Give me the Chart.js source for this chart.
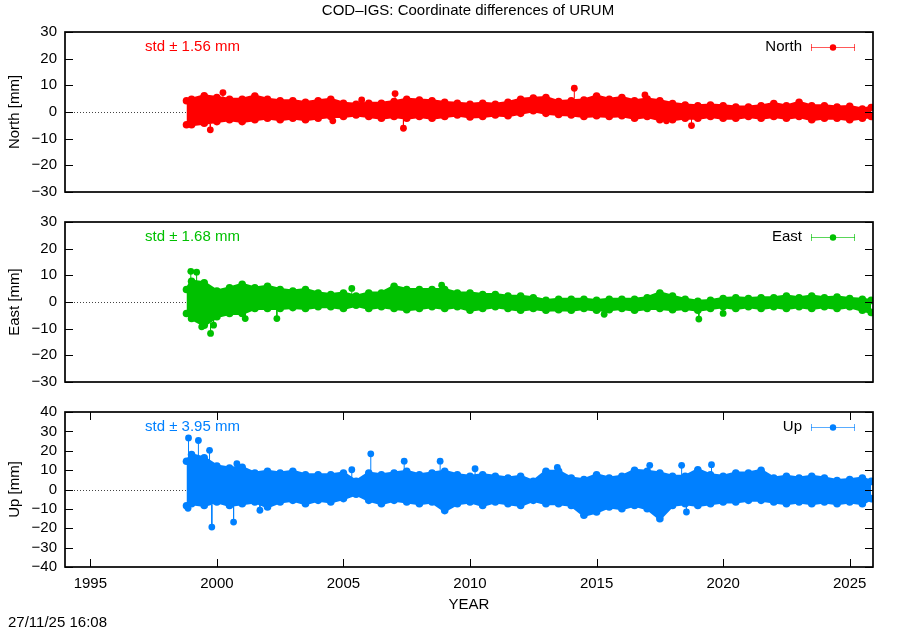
<!DOCTYPE html>
<html><head><meta charset="utf-8">
<script src="https://cdn.jsdelivr.net/npm/chart.js@4.4.1/dist/chart.umd.min.js"></script>
<style>
html,body{margin:0;padding:0;background:#fff;}
#wrap{position:relative;width:900px;height:630px;overflow:hidden;font-family:'Liberation Sans',Arial,sans-serif;}
canvas{position:absolute;left:0;top:0;}
.txt{position:absolute;font-size:15px;color:#000;white-space:nowrap;line-height:16px;}
</style></head><body>
<div id="wrap">
<canvas id="c1" width="900" height="630"></canvas>
<canvas id="c2" width="900" height="630"></canvas>
<canvas id="c3" width="900" height="630"></canvas>
<div class="txt" style="left:0;width:936px;text-align:center;top:2px;">COD–IGS: Coordinate differences of URUM</div>
<div class="txt" style="left:8px;top:614px;">27/11/25 16:08</div>
</div>
<script>
// ---- data (mm); envelopes of the dense daily series ----
const years = [1998.8, 1999.0, 1999.5, 2000.0, 2000.5, 2001.0, 2001.5, 2002.0, 2002.5, 2003.0, 2003.5, 2004.0, 2004.5, 2005.0, 2005.5, 2006.0, 2006.5, 2007.0, 2007.5, 2008.0, 2008.5, 2009.0, 2009.5, 2010.0, 2010.5, 2011.0, 2011.5, 2012.0, 2012.5, 2013.0, 2013.5, 2014.0, 2014.5, 2015.0, 2015.5, 2016.0, 2016.5, 2017.0, 2017.5, 2018.0, 2018.5, 2019.0, 2019.5, 2020.0, 2020.5, 2021.0, 2021.5, 2022.0, 2022.5, 2023.0, 2023.5, 2024.0, 2024.5, 2025.0, 2025.5, 2025.85];

const northUpper = [4.2, 4.8, 6.1, 5.4, 4.8, 4.8, 6.0, 4.8, 4.2, 4.2, 3.6, 4.2, 4.8, 3.3, 2.9, 3.3, 3.3, 3.9, 4.8, 4.5, 4.2, 3.6, 3.3, 2.9, 3.3, 2.9, 3.6, 4.8, 5.2, 5.4, 3.9, 4.2, 4.5, 6.0, 4.8, 5.4, 4.2, 4.9, 4.2, 3.2, 2.6, 2.3, 2.6, 2.3, 1.9, 1.9, 2.3, 3.2, 2.3, 3.6, 2.3, 2.3, 1.9, 2.1, 1.1, 1.7];
const northLower = [-4.8, -4.8, -4.2, -3.6, -2.9, -3.6, -2.9, -2.3, -2.9, -2.3, -2.9, -2.3, -1.7, -1.7, -1.1, -1.7, -2.3, -1.7, -2.3, -1.7, -2.3, -1.7, -1.1, -1.9, -1.7, -1.1, -1.4, -0.5, 0.5, -0.5, -0.9, -1.1, -1.7, -1.4, -1.7, -1.4, -2.3, -1.7, -2.9, -2.9, -2.3, -2.3, -1.7, -2.3, -2.3, -1.7, -2.3, -1.7, -2.3, -1.7, -2.9, -2.3, -2.3, -2.9, -2.3, -1.7];
// [year, value, value the spike leaves the band from]
const northSpikes = [[1999.74, -6.7, -4.5], [2000.24, 7.3, 5.0], [2004.58, -3.3, -1.7], [2005.72, 4.5, 2.5], [2007.04, 6.9, 4.0], [2007.37, -6.1, -2.0], [2014.12, 8.9, 5.0], [2016.91, 6.4, 4.5], [2017.76, -3.3, -2.0], [2018.75, -5.1, -2.0]];

const eastUpper = [4.7, 7.8, 7.2, 4.1, 5.3, 6.6, 5.3, 5.9, 4.7, 4.1, 4.7, 3.4, 2.8, 3.4, 2.2, 3.4, 3.4, 5.9, 4.7, 4.7, 4.7, 4.7, 3.4, 3.4, 2.8, 2.8, 2.2, 2.2, 1.6, 0.6, 1.0, 1.0, 1.0, 0.6, 1.0, 1.0, 1.0, 1.6, 3.4, 2.2, 1.0, 0.3, 0.6, 1.3, 1.6, 1.3, 1.6, 1.6, 2.2, 1.6, 2.2, 1.6, 1.9, 1.3, 1.0, 0.6];
const eastLower = [-4.3, -6.2, -8.7, -5.5, -4.3, -4.3, -2.4, -2.4, -2.4, -2.1, -2.4, -1.8, -1.8, -2.4, -1.2, -2.4, -1.8, -2.4, -2.9, -2.4, -1.8, -2.4, -1.8, -3.1, -2.4, -1.8, -2.4, -3.1, -2.4, -3.1, -2.9, -3.1, -2.4, -3.1, -2.9, -2.4, -3.1, -2.4, -2.4, -2.9, -2.4, -3.1, -2.4, -1.8, -2.4, -1.8, -2.4, -1.8, -2.4, -1.8, -2.4, -1.8, -2.4, -1.8, -3.1, -3.9];
const eastSpikes = [[1998.97, 11.5, 7.0], [1999.2, 11.2, 7.0], [1999.4, -9.3, -7.0], [1999.75, -11.8, -8.0], [1999.87, -8.7, -6.0], [2001.12, -6.2, -4.0], [2002.37, -6.2, -3.0], [2005.33, 5.1, 3.0], [2008.88, 6.3, 4.5], [2015.3, -4.6, -3.0], [2019.04, -6.4, -3.0], [2020.0, -4.3, -2.5]];

const upUpper = [14.6, 18.0, 16.3, 12.1, 11.1, 11.4, 8.5, 9.4, 8.5, 9.4, 7.6, 7.6, 7.6, 8.5, 4.2, 8.5, 7.6, 8.5, 9.4, 7.6, 8.5, 9.4, 7.6, 6.8, 7.6, 6.8, 5.9, 6.8, 4.2, 9.4, 9.4, 5.9, 5.1, 7.6, 5.9, 6.8, 9.9, 9.4, 8.5, 6.8, 6.8, 10.2, 7.6, 6.8, 8.5, 8.5, 9.9, 5.9, 6.8, 5.9, 6.8, 5.9, 4.6, 5.1, 5.9, 4.2];
const upLower = [-8.4, -7.3, -8.2, -6.4, -8.2, -7.3, -6.4, -9.0, -6.4, -5.6, -7.3, -5.6, -6.4, -4.7, -2.4, -5.6, -7.3, -5.6, -6.4, -7.3, -6.4, -10.9, -7.3, -6.4, -8.2, -6.4, -7.3, -8.2, -5.6, -7.3, -7.3, -8.2, -13.3, -11.6, -9.0, -9.9, -8.2, -9.9, -15.1, -8.2, -7.3, -8.2, -7.3, -6.4, -6.4, -5.6, -5.6, -6.4, -7.3, -6.4, -7.3, -6.4, -7.3, -6.4, -7.3, -4.7];
const upSpikes = [[1998.88, 26.6, 14.0], [1999.27, 25.3, 16.0], [1999.71, 20.2, 12.0], [2000.79, 13.3, 9.0], [2005.33, 10.2, 6.0], [2006.08, 18.4, 7.5], [2007.4, 14.6, 9.0], [2008.82, 14.6, 9.0], [2010.2, 10.7, 7.0], [2013.45, 11.4, 8.0], [2017.1, 12.5, 8.0], [2018.36, 12.5, 4.0], [2019.54, 12.8, 4.0], [1998.86, -9.7, -6.0], [1999.8, -19.4, -8.0], [2000.66, -16.8, -7.0], [2001.7, -10.7, -8.0], [2018.55, -11.6, -8.0]];

const xTicks = [1995, 2000, 2005, 2010, 2015, 2020, 2025];
const yTicksNE = [-30, -20, -10, 0, 10, 20, 30];
const yTicksUp = [-40, -30, -20, -10, 0, 10, 20, 30, 40];
const stdLabels = ['std \u00b1 1.56 mm', 'std \u00b1 1.68 mm', 'std \u00b1 3.95 mm'];
const seriesNames = ['North', 'East', 'Up'];
const axisTitles = ['North [mm]', 'East [mm]', 'Up [mm]'];

// ---- rendering ----
const FONT = "'Liberation Sans', Arial, sans-serif";
const FS = 15;
Chart.defaults.font.family = FONT;
Chart.defaults.font.size = FS;
Chart.defaults.color = '#000';

const X_MIN = 1994.0, X_MAX = 2025.92;
const fmt = v => String(v).replace('-', '\u2212');

function panelPlugin(idx, color, yTicks, showX) {
  return {
    id: 'panel' + idx,
    beforeDatasetsDraw(chart) {
      const {ctx, chartArea: a, scales: {y}} = chart;
      const y0 = Math.round(y.getPixelForValue(0)) + 0.5;
      ctx.save();
      ctx.strokeStyle = '#444'; ctx.lineWidth = 1; ctx.setLineDash([1, 2]);
      ctx.beginPath(); ctx.moveTo(a.left, y0); ctx.lineTo(a.right, y0); ctx.stroke();
      ctx.restore();
    },
    afterDatasetsDraw(chart) {
      const {ctx, chartArea: a} = chart;
      ctx.save();
      ctx.font = FS + 'px ' + FONT;
      ctx.textBaseline = 'middle';
      const ty = a.top + 15;
      ctx.fillStyle = color; ctx.textAlign = 'left';
      ctx.fillText(stdLabels[idx], a.left + 80, ty);
      ctx.fillStyle = '#000'; ctx.textAlign = 'right';
      ctx.fillText(seriesNames[idx], a.right - 71, ty);
      // legend symbol (error bar with point)
      const x1 = a.right - 62, x2 = a.right - 18, ly = Math.round(ty) + 0.5;
      ctx.strokeStyle = color; ctx.globalAlpha = 0.65; ctx.lineWidth = 1;
      ctx.beginPath();
      ctx.moveTo(x1, ly); ctx.lineTo(x2, ly);
      ctx.moveTo(x1 + 0.5, ly - 3.5); ctx.lineTo(x1 + 0.5, ly + 3.5);
      ctx.moveTo(x2 - 0.5, ly - 3.5); ctx.lineTo(x2 - 0.5, ly + 3.5);
      ctx.stroke();
      ctx.globalAlpha = 1;
      ctx.fillStyle = color;
      ctx.beginPath(); ctx.arc((x1 + x2) / 2, ly, 3.2, 0, Math.PI * 2); ctx.fill();
      ctx.restore();
    },
    afterDraw(chart) {
      const {ctx, chartArea: a, scales: {x, y}} = chart;
      ctx.save();
      ctx.strokeStyle = '#000';
      ctx.lineWidth = 1;
      ctx.beginPath();
      yTicks.forEach(v => {
        const py = Math.round(y.getPixelForValue(v)) + 0.5;
        ctx.moveTo(a.left, py); ctx.lineTo(a.left + 8, py);
        ctx.moveTo(a.right - 8, py); ctx.lineTo(a.right, py);
      });
      if (showX) {
        xTicks.forEach(v => {
          const px = Math.round(x.getPixelForValue(v)) + 0.5;
          ctx.moveTo(px, a.bottom); ctx.lineTo(px, a.bottom - 8);
          ctx.moveTo(px, a.top); ctx.lineTo(px, a.top + 8);
        });
      }
      ctx.stroke();
      ctx.lineWidth = 1.7;
      ctx.strokeRect(a.left, a.top, a.right - a.left, a.bottom - a.top);
      ctx.restore();
    }
  };
}

function makePanel(canvasId, idx, color, upper, lower, spikes, yMin, yMax, yTicks, top, bottom, showX) {
  const upperData = years.map((x, i) => ({x: x, y: upper[i]}));
  const lowerData = years.map((x, i) => ({x: x, y: lower[i]}));
  const spikeData = [];
  spikes.forEach(s => {
    spikeData.push({x: s[0], y: s[2]});
    spikeData.push({x: s[0], y: s[1]});
    spikeData.push({x: s[0], y: null});
  });
  const band = {
    type: 'line', borderColor: color, backgroundColor: color, borderWidth: 3,
    pointRadius: 3.8, pointBackgroundColor: color, pointBorderWidth: 0,
    pointHoverRadius: 0, tension: 0
  };
  const xScale = {
    type: 'linear', min: X_MIN, max: X_MAX, display: showX,
    grid: {display: false, drawTicks: false}, border: {display: false},
    afterBuildTicks: s => { s.ticks = xTicks.map(v => ({value: v})); },
    ticks: {autoSkip: false, maxRotation: 0, padding: 8, callback: v => String(v), font: {size: FS}},
    title: {display: showX, text: 'YEAR', font: {size: FS}, padding: {top: 0, bottom: 16}}
  };
  if (showX) xScale.afterFit = s => { s.height = 630 - bottom; };
  return new Chart(document.getElementById(canvasId), {
    type: 'line',
    data: {
      datasets: [
        Object.assign({}, band, {data: upperData, fill: '+1'}),
        Object.assign({}, band, {data: lowerData, fill: false}),
        {
          data: spikeData, borderColor: color, borderWidth: 1, spanGaps: false, fill: false,
          pointRadius: c => (c.dataIndex % 3 === 1 ? 3.4 : 0),
          pointBackgroundColor: color, pointBorderWidth: 0, tension: 0
        }
      ]
    },
    options: {
      responsive: false, animation: false, events: [],
      layout: {padding: {top: top, bottom: showX ? 0 : 630 - bottom, right: 27, left: 0}},
      plugins: {legend: {display: false}, tooltip: {enabled: false}},
      scales: {
        x: xScale,
        y: {
          type: 'linear', min: yMin, max: yMax,
          grid: {display: false, drawTicks: false}, border: {display: false},
          afterBuildTicks: s => { s.ticks = yTicks.map(v => ({value: v})); },
          afterFit: s => { s.width = 65; },
          ticks: {autoSkip: false, padding: 8, callback: v => fmt(v), font: {size: FS}},
          title: {display: true, text: axisTitles[idx], font: {size: FS}, padding: {top: 6, bottom: 0}}
        }
      }
    },
    plugins: [panelPlugin(idx, color, yTicks, showX)]
  });
}

makePanel('c1', 0, '#ff0000', northUpper, northLower, northSpikes, -30, 30, yTicksNE, 32, 192, false);
makePanel('c2', 1, '#00c000', eastUpper, eastLower, eastSpikes, -30, 30, yTicksNE, 222, 382, false);
makePanel('c3', 2, '#0080ff', upUpper, upLower, upSpikes, -40, 40, yTicksUp, 412, 567, true);
</script>
</body></html>
